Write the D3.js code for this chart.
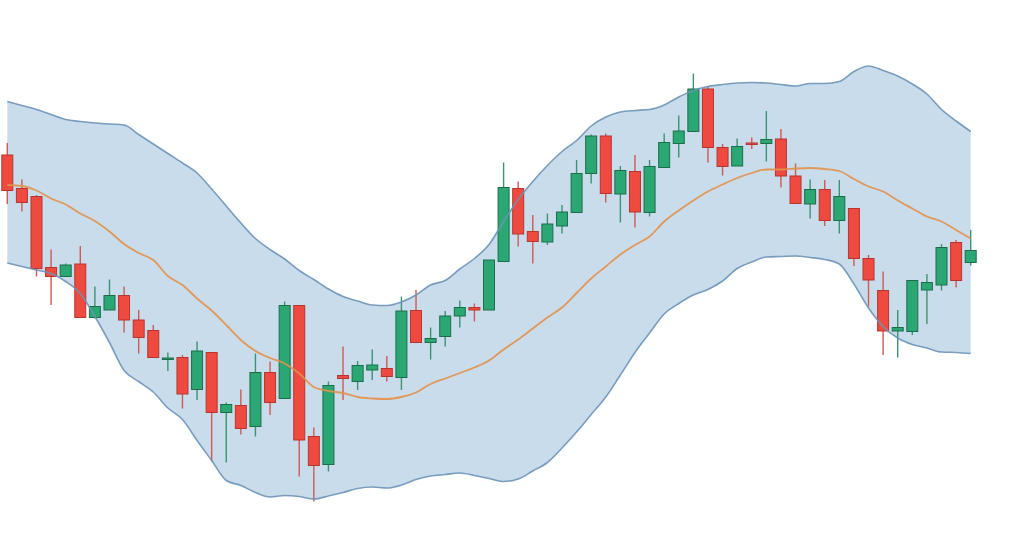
<!DOCTYPE html>
<html>
<head>
<meta charset="utf-8">
<script src="https://cdn.jsdelivr.net/npm/d3@7"></script>
<style>
  html, body { margin: 0; padding: 0; background: #ffffff; }
  #chart { width: 1024px; height: 559px; }
</style>
</head>
<body>
<div id="chart"></div>
<script>
// candles: open, high, low, close
const opens  = [129.0,122.3,120.7,106.5,104.7,107.2,96.5,98.0,100.9,96.0,93.9,88.3,88.5,82.1,89.5,77.5,78.9,74.7,85.5,80.3,98.9,72.7,67.1,84.9,83.7,86.0,86.3,84.5,97.9,91.5,92.7,96.8,98.5,98.0,107.7,122.3,113.7,111.6,114.8,117.5,125.3,132.8,121.2,125.7,117.5,126.5,131.3,133.7,142.2,130.5,126.8,131.4,131.3,132.2,124.8,119.2,122.1,115.9,118.3,108.3,101.9,93.8,93.7,102.0,103.0,111.5,107.5];
const highs  = [131.4,124.1,121.0,110.1,107.3,110.8,102.7,104.1,102.7,98.0,95.0,89.5,89.0,91.7,89.6,79.5,82.1,89.3,87.7,99.7,99.0,74.5,83.7,90.7,87.8,90.1,88.8,100.7,102.0,94.5,97.8,99.9,99.3,108.0,127.5,123.7,117.0,117.3,119.0,128.0,133.1,133.3,126.8,129.0,128.0,133.3,136.9,145.3,142.7,131.2,132.3,132.5,137.8,134.2,127.3,124.1,124.0,124.0,118.3,109.0,105.7,98.0,104.0,105.2,111.2,112.0,114.0];
const lows   = [119.2,117.7,104.7,99.0,104.7,96.5,96.3,98.0,93.5,89.3,88.5,85.8,78.3,80.0,67.7,67.5,73.1,72.7,77.0,80.3,64.7,59.7,65.7,80.0,82.0,84.0,83.7,82.0,91.5,88.1,90.7,94.5,95.7,98.0,107.7,110.7,107.3,111.0,113.3,117.5,123.3,119.5,115.5,114.5,116.7,126.5,128.5,133.7,127.5,124.9,126.8,130.2,127.7,122.5,119.3,116.3,114.8,113.3,106.8,98.7,89.0,88.5,93.0,95.2,101.9,102.5,106.9];
const closes = [121.9,119.5,106.3,104.7,107.0,96.5,98.7,100.9,96.0,92.5,88.5,88.4,81.2,89.8,77.5,79.1,74.3,85.5,79.5,98.9,72.0,66.9,82.9,84.3,86.9,87.0,84.7,97.8,91.5,92.3,96.8,98.5,98.0,108.0,122.5,113.2,111.7,115.2,117.6,125.3,132.8,121.3,125.9,117.6,126.7,131.5,133.8,142.2,130.5,126.7,130.7,131.2,132.1,124.8,119.3,122.1,115.9,120.7,108.3,104.0,93.8,94.5,103.9,103.5,110.5,103.9,109.9];

// bollinger bands + middle average
const upperBand = [139.7,138.9,138.1,137.1,136.1,135.7,135.4,135.2,135.0,133.1,131.2,129.3,127.4,125.4,122.2,118.8,115.4,112.3,110.1,108.2,105.9,104.1,102.2,100.7,99.8,99.0,98.9,99.6,101.0,103.0,103.9,106.2,108.3,111.1,115.7,120.1,123.7,126.9,129.7,131.9,134.8,136.6,137.6,137.9,138.1,139.0,140.6,141.9,142.7,143.1,143.4,143.5,143.4,143.1,142.8,143.3,143.3,143.7,145.7,146.8,145.9,144.8,143.2,141.2,138.1,135.8,133.7];
const lowerBand = [107.4,106.7,106.0,105.3,103.7,101.3,96.7,91.5,85.9,83.7,81.6,78.4,76.1,71.9,67.9,63.9,62.9,61.5,60.6,60.9,60.7,60.2,60.8,61.5,62.3,62.6,62.4,63.0,64.1,64.8,65.1,65.4,64.9,64.3,63.7,64.2,65.8,67.5,70.4,73.6,77.1,80.6,85.0,89.5,93.4,97.2,99.3,101.0,102.1,103.8,106.3,107.6,108.6,108.7,108.8,108.5,108.1,107.2,103.2,98.4,94.7,92.4,91.1,90.4,89.6,89.5,89.3];
const midAvg    = [123.0,122.8,121.9,120.3,119.1,117.3,115.8,113.7,111.2,109.4,108.0,104.8,103.0,100.3,97.9,95.0,92.0,89.8,88.4,87.3,85.3,82.6,81.8,81.4,80.6,80.3,80.2,80.6,81.5,83.2,84.3,85.4,86.5,87.9,90.1,92.1,94.3,96.5,98.5,101.4,104.3,106.7,109.1,111.0,112.7,115.7,117.9,119.9,121.7,123.1,124.4,125.4,126.1,126.1,126.3,126.4,126.2,125.8,124.2,122.7,121.7,119.9,118.3,116.7,115.7,114.0,112.3];

const candles = opens.map((o, i) => ({
  i: i, open: o, high: highs[i], low: lows[i], close: closes[i]
}));

const width = 1024, height = 559;

const svg = d3.select('#chart').append('svg')
  .attr('width', width)
  .attr('height', height);

const x = d3.scalePoint()
  .domain(d3.range(candles.length))
  .range([7.3, 970.7]);

const y = d3.scaleLinear()
  .domain([50, 150])
  .range([550, 50]);

const bodyW = 11;
const curve = d3.curveMonotoneX;

// band fill
const bandArea = d3.area()
  .x((d, i) => x(i))
  .y0((d, i) => y(lowerBand[i]))
  .y1((d, i) => y(upperBand[i]))
  .curve(curve);

svg.append('path')
  .datum(upperBand)
  .attr('d', bandArea)
  .attr('fill', '#c9dcec');

// candles
const up = d => d.close >= d.open;

const g = svg.append('g').attr('class', 'candles');

g.selectAll('.wick').data(candles).enter()
  .append('line')
  .attr('class', 'wick')
  .attr('x1', d => x(d.i)).attr('x2', d => x(d.i))
  .attr('y1', d => y(d.high)).attr('y2', d => y(d.low))
  .attr('stroke', d => up(d) ? '#3b9470' : '#cf5a53')
  .attr('stroke-width', 1.4);

g.selectAll('.body').data(candles).enter()
  .append('rect')
  .attr('class', 'body')
  .attr('x', d => x(d.i) - bodyW / 2)
  .attr('width', bodyW)
  .attr('y', d => y(Math.max(d.open, d.close)))
  .attr('height', d => Math.max(1.5, Math.abs(y(d.open) - y(d.close))))
  .attr('fill', d => up(d) ? '#2aa772' : '#ee4a40')
  .attr('stroke', d => up(d) ? '#1c6e4b' : '#b8352e')
  .attr('stroke-width', 1);

// band edges
const line = d3.line().x((d, i) => x(i)).y(d => y(d)).curve(curve);

[upperBand, lowerBand].forEach(arr => {
  svg.append('path')
    .datum(arr)
    .attr('d', line)
    .attr('fill', 'none')
    .attr('stroke', '#6c93b8')
    .attr('stroke-opacity', 0.9)
    .attr('stroke-width', 1.6);
});

// middle line
svg.append('path')
  .datum(midAvg)
  .attr('d', line)
  .attr('fill', 'none')
  .attr('stroke', '#e3914a')
  .attr('stroke-opacity', 0.9)
  .attr('stroke-width', 1.8);
</script>
</body>
</html>
